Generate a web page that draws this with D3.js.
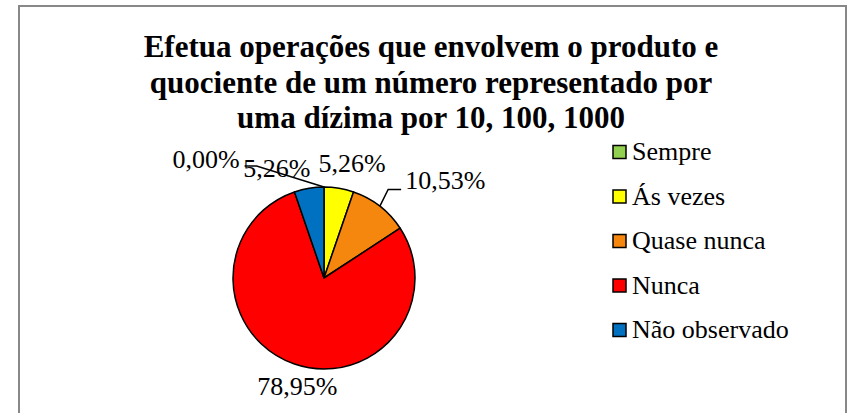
<!DOCTYPE html>
<html>
<head>
<meta charset="utf-8">
<script src="https://cdn.jsdelivr.net/npm/d3@7"></script>
<style>
  body { margin: 0; background: #fff; }
</style>
</head>
<body>
<div id="chart"></div>
<script>
const categories = ['Sempre', 'Ás vezes', 'Quase nunca', 'Nunca', 'Não observado']
const values = [0, 5.26, 10.53, 78.95, 5.26]
const labels = ['0,00%', '5,26%', '10,53%', '78,95%', '5,26%']
const colors = ['#92D050', '#FFFF00', '#F5870F', '#FF0000', '#0070C0']
const titleLines = ['Efetua operações que envolvem o produto e',
    'quociente de um número representado por',
    'uma dízima por 10, 100, 1000']

//variables
const width = 848
const height = 413
const cx = 324
const cy = 278
const radius = 91
const font = '"Liberation Serif", serif'

const svg = d3.select('#chart')
    .append('svg')
    .attr('width', width)
    .attr('height', height)
    .style('font-family', font)

//frame
svg.append('rect')
    .attr('x', 19)
    .attr('y', 6)
    .attr('width', 827)
    .attr('height', 430)
    .attr('fill', '#fff')
    .attr('stroke', '#888')
    .attr('stroke-width', 2)

//title
svg.append('text')
    .attr('x', 431)
    .attr('y', 57)
    .attr('text-anchor', 'middle')
    .style('font-family', font)
    .style('font-size', '31px')
    .style('font-weight', 'bold')
    .selectAll('tspan')
    .data(titleLines)
    .enter()
    .append('tspan')
    .attr('x', 431)
    .attr('dy', (d, i) => i === 0 ? 0 : 35.5)
    .text((d) => d)

//pie
const pie = d3.pie().sort(null).value((d) => d)
const arcs = pie(values)
const arc = d3.arc().innerRadius(0).outerRadius(radius)

const g = svg.append('g')
    .attr('transform', `translate(${cx},${cy})`)

g.selectAll('path')
    .data(arcs)
    .enter()
    .append('path')
    .attr('d', arc)
    .attr('fill', (d, i) => colors[i])
    .attr('stroke', '#000')
    .attr('stroke-width', 1.5)
    .attr('stroke-linejoin', 'round')

//labels (best fit placement: radial + nudges)
const labelRadius = 116
const nudge = [[-118, 6], [9, 8], [50, 3], [11, 7], [-28, 13]]
const leaders = [true, false, true, false, false]
const midAngle = (d) => (d.startAngle + d.endAngle) / 2

arcs.forEach((d, i) => {
    const a = midAngle(d)
    const x = Math.sin(a) * labelRadius + nudge[i][0]
    const y = -Math.cos(a) * labelRadius + nudge[i][1]
    const t = g.append('text')
        .attr('x', x)
        .attr('y', y)
        .attr('text-anchor', 'middle')
        .style('font-family', font)
        .style('font-size', '26px')
        .text(labels[i])
    if (leaders[i]) {
        const w = t.node().getComputedTextLength()
        const ex = Math.sin(a) * radius
        const ey = -Math.cos(a) * radius
        const left = x < ex
        const hx0 = left ? x + w / 2 + 5 : x - w / 2 - 4
        const hx1 = left ? hx0 + 12 : hx0 - 13
        const ly = left ? y - 2 : y
        g.append('path')
            .attr('d', `M${ex},${ey}L${hx1},${ly}L${hx0},${ly}`)
            .attr('fill', 'none')
            .attr('stroke', '#000')
            .attr('stroke-width', 1.5)
    }
})

//legend
const legend = svg.append('g')
    .attr('transform', 'translate(613,152)')
const rows = legend.selectAll('g')
    .data(categories)
    .enter()
    .append('g')
    .attr('transform', (d, i) => `translate(0,${i * 44.5})`)
rows.append('rect')
    .attr('x', 0)
    .attr('y', -6.5)
    .attr('width', 13)
    .attr('height', 13)
    .attr('fill', (d, i) => colors[i])
    .attr('stroke', '#000')
    .attr('stroke-width', 1.5)
rows.append('text')
    .attr('x', 19)
    .attr('y', 8)
    .style('font-family', font)
    .style('font-size', '26px')
    .text((d) => d)
</script>
</body>
</html>
